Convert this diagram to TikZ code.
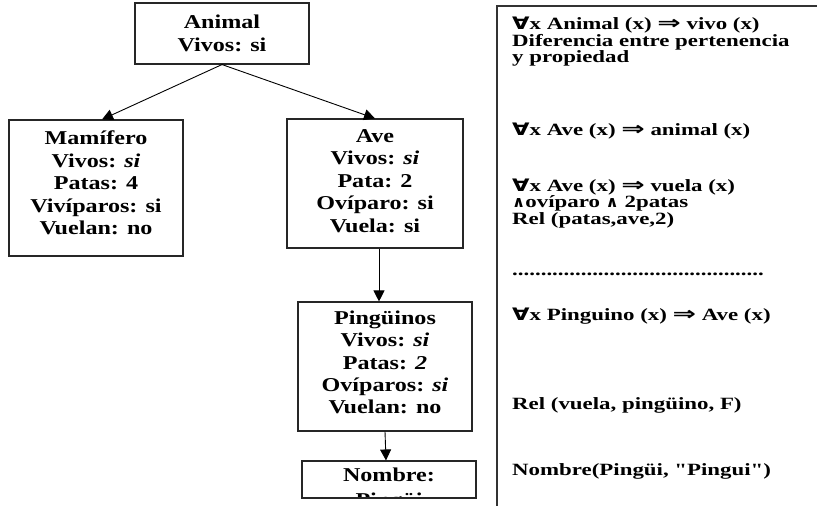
\documentclass[tikz,border=0pt]{standalone}
\usepackage{fontspec}
\setmainfont{Liberation Serif}[FakeStretch=1.23]
\newfontfamily\rulefont{Liberation Serif}[FakeStretch=1.33, Ligatures=TeX]
\newfontfamily\plainq{Liberation Serif}[FakeStretch=1.33]
\newfontfamily\symf{DejaVu Sans}[FakeStretch=1.05]
\usetikzlibrary{arrows.meta}

\newcommand{\fa}{\scalebox{1.25}[1.0]{\symf\bfseries ∀}}
\newcommand{\imp}{\scalebox{1.55}[1.1]{\symf\bfseries ⇒}}
\newcommand{\yy}{\raisebox{0.5pt}{\scalebox{0.9}{\symf\bfseries ∧}}}
\newcommand{\dq}{{\plainq\bfseries "}}

\tikzset{
  frame/.style={draw=black!85, line width=1.1pt, inner sep=0pt},
  boxtext/.style={inner sep=0pt, align=center,
    font=\fontsize{19.6pt}{22.4pt}\selectfont\bfseries},
  rule/.style={font=\rulefont\fontsize{17.2pt}{16.7pt}\selectfont\bfseries,
    inner sep=0pt, anchor=base west},
  link/.style={line width=0.9pt, -{Triangle[length=11pt,width=11pt]}},
  panel/.style={draw=black!80, line width=1.1pt}
}

\begin{document}
\begin{tikzpicture}[x=1pt,y=-1pt]
\useasboundingbox (0,0) rectangle (817,506);

% class boxes
\node[frame, minimum width=174pt, minimum height=61pt]  (ani)  at (222,33.5) {};
\node[frame, minimum width=174pt, minimum height=136pt] (mam)  at (96,188) {};
\node[frame, minimum width=176pt, minimum height=129pt] (ave)  at (375,183.5) {};
\node[frame, minimum width=174pt, minimum height=129pt] (ping) at (385,366.5) {};
\node[frame, minimum width=174pt, minimum height=37pt]  (nom)  at (389,479.5) {};

% box contents
\node[boxtext] (aniT) at (ani.center) {Animal\\Vivos: si};
\node[boxtext] (mamT) at ([yshift=5pt]mam.center)
  {Mamífero\\Vivos: \textit{si}\\Patas: 4\\Vivíparos: si\\Vuelan: no};
\node[boxtext] (aveT) at ([yshift=2.5pt]ave.center)
  {Ave\\Vivos: \textit{si}\\Pata: 2\\Ovíparo: si\\Vuela: si};
\node[boxtext] (pingT) at ([yshift=4pt]ping.center)
  {Pingüinos\\Vivos: \textit{si}\\Patas: \textit{2}\\Ovíparos: \textit{si}\\Vuelan: no};

% the name box is too small for its two lines: the second one is cut off
\begin{scope}
  \clip ([xshift=1pt,yshift=-1pt]nom.north west) rectangle ([xshift=-1pt,yshift=2.5pt]nom.south east);
  \node[boxtext, anchor=base] (nomA) at ([yshift=-21pt]nom.north) {Nombre:};
  \node[boxtext, anchor=base] (nomB) at ([yshift=-46pt]nom.north) {Pingüi};
\end{scope}

% hierarchy links
\draw[link] (ani.south) -- ([xshift=6pt]mam.north);
\draw[link] (ani.south) -- (ave.north);
\draw[link] ([xshift=4pt]ave.south) -- ([xshift=-6pt]ping.north);
\draw[link] (ping.south) -- ([xshift=-3pt]nom.north);

% logic panel
\coordinate (pTL) at (497,6);
\coordinate (pTR) at (817,6);
\coordinate (pBL) at (497,506);
\draw[panel] (pTR) -- (pTL) -- (pBL);

\node[rule] (r1) at (512,29) {\fa x Animal (x) \imp{} vivo (x)};
\node[rule] (r2) at (512,46) {Diferencia entre pertenencia};
\node[rule] (r3) at (512,62) {y propiedad};
\node[rule] (r4) at (512,135) {\fa x Ave (x) \imp{} animal (x)};
\node[rule] (r5) at (512,191) {\fa x Ave (x) \imp{} vuela (x)};
\node[rule] (r6) at (512,207.5) {\yy ovíparo \yy{} 2patas};
\node[rule] (r7) at (512,224) {Rel (patas,ave,2)};
\node[rule] (r8) at (512,275) {............................................};
\node[rule] (r9) at (512,320) {\fa x Pinguino (x) \imp{} Ave (x)};
\node[rule] (r10) at (512,409) {Rel (vuela, pingüino, F)};
\node[rule] (r11) at (512,475) {Nombre(Pingüi, \dq Pingui\dq)};
\end{tikzpicture}
\end{document}
